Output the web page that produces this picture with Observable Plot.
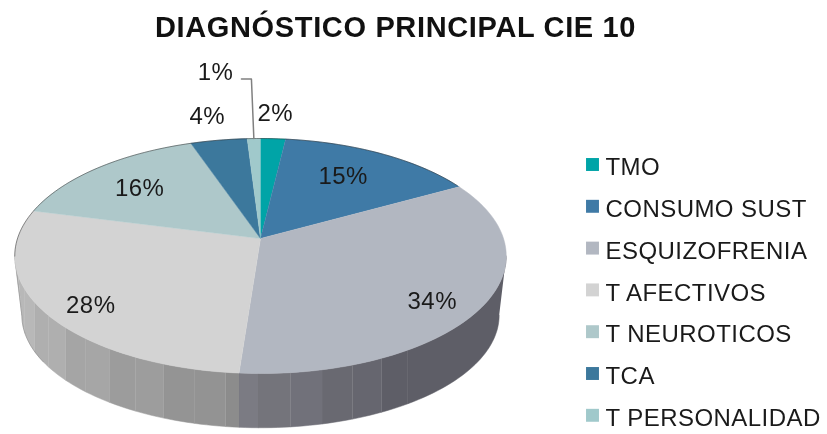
<!DOCTYPE html>
<html>
<head>
<meta charset="utf-8">
<style>
html,body{margin:0;padding:0;background:#fff}
svg{display:block;filter:blur(0.45px)}
svg text{letter-spacing:0.45px}
svg .chart-title text{letter-spacing:0.65px}
</style>
<script src="https://cdn.jsdelivr.net/npm/d3@7"></script>
<script src="https://cdn.jsdelivr.net/npm/@observablehq/plot@0.6"></script>
</head>
<body>
<div id="chart"></div>
<script>
const title = "DIAGNÓSTICO PRINCIPAL CIE 10";
const categories = ["TMO","CONSUMO SUST","ESQUIZOFRENIA","T AFECTIVOS","T NEUROTICOS","TCA","T PERSONALIDAD"];
const values = [1.9,15.1,34.2,27.8,15.7,4.3,1.0];
const labels = ["2%","15%","34%","28%","16%","4%","1%"];
const colors = ["#00a4a7","#3f7aa6","#b2b7c1","#d3d3d3","#aec8ca","#3c789c","#a0c9cb"];
const labelRadius = [1.3,0.7,0.8,0.8,0.7,1.3,1.85];
const labelDx = [-1,-5,-3,0,-4,-1,-34];
const labelDy = [0,-1,10,9.5,1,1,0];

// perspective disc
const k = 0.149;
const topDisc = {cx:260, cy:238, R:243, S:114.9};
const baseDisc = {cx:260, cy:298, R:236, S:110};
function project(disc, deg, r=1){
  const t = deg*Math.PI/180, X = r*Math.sin(t), Y = r*Math.cos(t), w = 1+k*Y;
  return {x: disc.cx+disc.R*X/w, y: disc.cy-disc.S*Y/w};
}
const total = d3.sum(values);
const cum = d3.cumsum(values);
const arcs = categories.map((key,i)=>({key,i,a0:(i?cum[i-1]:0)/total*360,a1:cum[i]/total*360}));

// top face
const faces = arcs.flatMap(({key,a0,a1})=>{
  const n = Math.max(2,Math.ceil((a1-a0)/1.5));
  return [{key,...project(topDisc,0,0)},
    ...d3.range(n+1).map(j=>({key,...project(topDisc,a0+(a1-a0)*j/n)}))];
});

// side facets: each edge is vertical, so the base angle is the one under the rim point
const extreme = Math.acos(-k)*180/Math.PI;
const sideFrom = extreme, sideTo = 360-extreme, facet = 6.5, darkEnd = 148;
const splitAngle = arcs[2].a1;
function baseAngleBelow(deg){
  const x = project(topDisc,deg).x;
  let lo = sideFrom, hi = sideTo;
  for(let n=0;n<30;n++){
    const mid=(lo+hi)/2;
    if(project(baseDisc,mid).x>x) lo=mid; else hi=mid;
  }
  return (lo+hi)/2;
}
const afect = d3.scaleLinear().domain([splitAngle,sideTo]).range(["#8f8f8f","#c6c6c6"]);
const esq = d3.scaleLinear().domain([darkEnd,splitAngle]).range(["#5e5e67","#7d7d85"]).clamp(true);
const sides = [];
let fi = 0;
const edges = [sideFrom,...d3.range(darkEnd,sideTo,facet),sideTo,splitAngle].sort((a,b)=>a-b);
for(let e=0;e<edges.length-1;e++){
  const a=edges[e], b=edges[e+1], m=(a+b)/2;
  if(b-a<1e-6) continue;
  const col = d3.color(m<splitAngle?esq(m):afect(m));
  const shade = (m>darkEnd && fi%2) ? col.darker(0.08).formatHex() : col.formatHex();
  const ba = baseAngleBelow(a), bb = baseAngleBelow(b);
  const id = "f"+fi++;
  const n = Math.ceil((b-a)/1.5);
  for(let j=0;j<=n;j++) sides.push({id,shade,...project(topDisc,a+(b-a)*j/n)});
  for(let j=n;j>=0;j--) sides.push({id,shade,...project(baseDisc,ba+(bb-ba)*j/n)});
}

// thin dark rim on the far side and down the left silhouette
const rim = d3.range(sideTo,421,1.5).map(t=>project(topDisc,t));
const edgeLeft = [...d3.range(238,sideTo,2).map(t=>project(baseDisc,t)),project(baseDisc,sideTo),project(topDisc,sideTo)];

// label placement
const labelData = arcs.map(({i,a0,a1})=>{
  const p = project(topDisc,(a0+a1)/2,labelRadius[i]);
  return {text:labels[i],x:p.x+labelDx[i],y:p.y+labelDy[i]};
});

// leader for the last slice
const lastArc = arcs[6], tip = project(topDisc,(lastArc.a0+lastArc.a1)/2);
const leader = [{x:labelData[6].x+26,y:labelData[6].y+7},{x:labelData[6].x+36,y:labelData[6].y+7},tip];

const legendX = 592, legendTextX = 605, legendY = 164, legendStep = 41.8;
const font = "'Liberation Sans',Arial,sans-serif";

const plot = Plot.plot({
  width:827, height:434, margin:0,
  x:{domain:[0,827],range:[0,827],axis:null},
  y:{domain:[0,434],range:[0,434],axis:null},
  color:{domain:categories,range:colors},
  style:{background:"#fff",fontFamily:font},
  marks:[
    Plot.line(sides,{x:"x",y:"y",z:"id",fill:{value:"shade",scale:null},stroke:{value:"shade",scale:null},strokeWidth:0.5,curve:"linear"}),
    Plot.line(edgeLeft,{x:"x",y:"y",stroke:"#444",strokeWidth:0.5,strokeOpacity:0.5,curve:"linear"}),
    Plot.line(faces,{x:"x",y:"y",z:"key",fill:"key",stroke:"key",strokeWidth:0.5,curve:"linear"}),
    Plot.line(rim,{x:"x",y:"y",stroke:"#222",strokeWidth:0.7,strokeOpacity:0.7}),
    Plot.line(leader,{x:"x",y:"y",stroke:"#808080",strokeWidth:1.5,curve:"linear"}),
    Plot.text(labelData,{x:"x",y:"y",text:"text",fontSize:24,fill:"#1a1a1a",textAnchor:"middle",lineAnchor:"middle"}),
    Plot.dot(categories,{x:()=>legendX,y:(d,i)=>legendY+legendStep*i,symbol:"square",r:7.3,fill:d=>d}),
    Plot.text(categories,{x:()=>legendTextX,y:(d,i)=>legendY+3+legendStep*i,text:d=>d,fontSize:24,fill:"#1a1a1a",textAnchor:"start",lineAnchor:"middle"}),
    Plot.text([title],{x:()=>395,y:()=>27,text:d=>d,fontSize:29,fontWeight:"bold",fill:"#111",textAnchor:"middle",lineAnchor:"middle",className:"chart-title"})
  ]
});
document.getElementById("chart").append(plot);
</script>
</body>
</html>
